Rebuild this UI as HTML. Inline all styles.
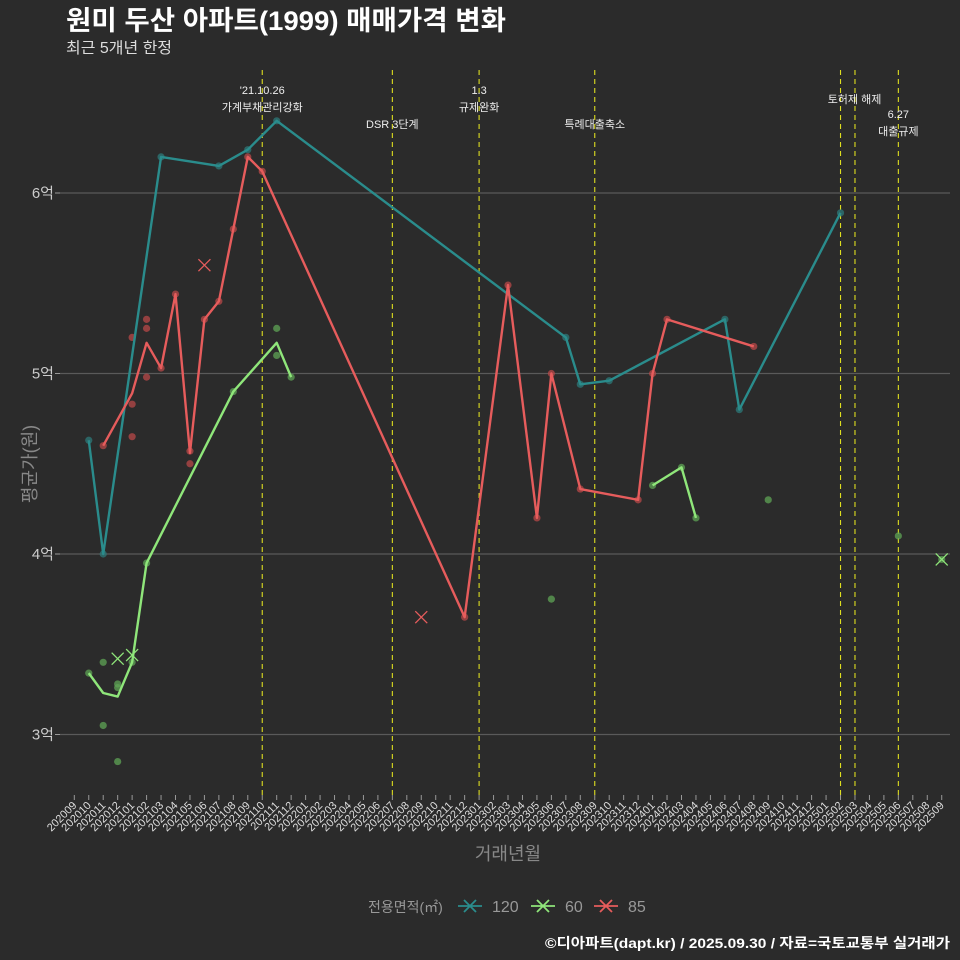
<!DOCTYPE html>
<html><head><meta charset="utf-8"><style>
body{margin:0;background:#2b2b2b;}
svg{display:block;font-family:"Liberation Sans","Noto Sans CJK KR",sans-serif;}
</style></head><body>
<svg id="c" width="960" height="960">
<rect width="960" height="960" fill="#2b2b2b"/>
<text x="66" y="30" fill="#fff" font-size="27" font-weight="bold" textLength="440" lengthAdjust="spacingAndGlyphs">원미 두산 아파트(1999) 매매가격 변화</text>
<text x="66" y="53" fill="#ddd" font-size="15.5" textLength="106" lengthAdjust="spacingAndGlyphs">최근 5개년 한정</text>
<text x="36" y="464" fill="#888" font-size="18" transform="rotate(-90 36 464)" text-anchor="middle">평균가(원)</text>
<text x="508" y="860" fill="#888" font-size="18" text-anchor="middle">거래년월</text>
<g>
<text x="368" y="912" fill="#999" font-size="14">전용면적(㎡)</text>
</g>
<text x="950" y="948" fill="#fff" font-size="14" font-weight="bold" text-anchor="end" textLength="405" lengthAdjust="spacingAndGlyphs">©디아파트(dapt.kr) / 2025.09.30 / 자료=국토교통부 실거래가</text>
</svg>
<script>
const months=[];for(let y=2020,m=9;!(y===2025&&m===10);){months.push(y+String(m).padStart(2,'0'));m++;if(m>12){m=1;y++;}}
const yTicks=[3,4,5,6];
const yLabels=['3억','4억','5억','6억'];
const events=['202110','202207','202301','202309','202502','202503','202506'];
// series 120
const t120Months=['202010','202011','202103','202107','202109','202111','202307','202308','202310','202406','202407','202502'];
const t120Vals=[4.63,4.0,6.2,6.15,6.24,6.40,5.2,4.94,4.96,5.30,4.80,5.89];
const d120Months=t120Months;const d120Vals=t120Vals;
// series 85
const l85Months=['202011','202101','202102','202103','202104','202105','202106','202107','202108','202109','202110','202212','202303','202305','202306','202308','202312','202401','202402','202408'];
const l85Vals=[4.60,4.89,5.17,5.03,5.44,4.56,5.30,5.40,5.80,6.20,6.12,3.65,5.49,4.20,5.00,4.36,4.30,5.00,5.30,5.15];
const d85Months=['202011','202101','202101','202101','202102','202102','202102','202103','202104','202105','202105','202106','202107','202108','202109','202110','202212','202303','202305','202306','202308','202312','202401','202402','202408'];
const d85Vals=[4.60,5.20,4.83,4.65,5.30,5.25,4.98,5.03,5.44,4.50,4.57,5.30,5.40,5.80,6.20,6.12,3.65,5.49,4.20,5.00,4.36,4.30,5.00,5.30,5.15];
const x85Months=['202106','202209'];const x85Vals=[5.60,3.65];
// series 60
const l60aMonths=['202010','202011','202012','202101','202102','202108','202111','202112'];
const l60aVals=[3.34,3.23,3.21,3.40,3.95,4.90,5.17,4.98];
const l60bMonths=['202401','202403','202404'];
const l60bVals=[4.38,4.48,4.20];
const d60Months=['202010','202011','202011','202012','202012','202012','202101','202102','202108','202111','202111','202112','202306','202401','202403','202404','202409','202506','202509'];
const d60Vals=[3.34,3.40,3.05,3.28,3.26,2.85,3.40,3.95,4.90,5.25,5.10,4.98,3.75,4.38,4.48,4.20,4.30,4.10,3.97];
const x60Months=['202012','202101','202509'];const x60Vals=[3.42,3.44,3.97];

const NS='http://www.w3.org/2000/svg',svg=document.getElementById('c');
const X=m=>74.3+14.457*months.indexOf(m);
const Y=v=>193+(6-v)*180.5;
function el(t,a,p){const e=document.createElementNS(NS,t);for(const k in a)e.setAttribute(k,a[k]);(p||svg).appendChild(e);return e;}
const grid=el('g',{});


yTicks.forEach((v,i)=>{
 const l=el('line',{x1:60,x2:950,y1:Y(v),y2:Y(v),stroke:'#5a5a5a','stroke-width':1.2},grid);
 
 
 el('line',{x1:55,x2:60,y1:Y(v),y2:Y(v),stroke:'#999'},grid);
 const t=el('text',{x:54,y:Y(v)+5,fill:'#ccc','font-size':15,'text-anchor':'end'},grid);t.textContent=yLabels[i];
 
 
});
months.forEach(m=>{
 const x=X(m);
 el('line',{x1:x,x2:x,y1:795,y2:800,stroke:'#999'},grid);
 const t=el('text',{x:x+3,y:806,fill:'#ddd','font-size':11,'text-anchor':'end',transform:`rotate(-45 ${x+3} 806)`},grid);
 t.textContent=m;
 
 
});
events.forEach(m=>{
 const l=el('line',{x1:X(m),x2:X(m),y1:70,y2:795,stroke:'#dede20','stroke-width':1.1,'stroke-dasharray':'5,4'});
 
 
});
const notes=[['202110',90,"'21.10.26"],['202110',107,'가계부채관리강화'],['202207',124,'DSR 3단계'],['202301',90,'1.3'],['202301',107,'규제완화'],['202309',124,'특례대출축소'],['202502',99,'토허제 해제',14],['202506',114,'6.27'],['202506',131,'대출규제']];
notes.forEach(n=>{const t=el('text',{x:X(n[0])+(n[3]||0),y:n[1]+4,fill:'#eee','font-size':11,'text-anchor':'middle'});t.textContent=n[2];
 
 });
function line(ms,vs,c,name){const p=el('polyline',{points:ms.map((m,i)=>X(m)+','+Y(vs[i])).join(' '),fill:'none',stroke:c,'stroke-width':2.4,'stroke-linejoin':'round'});
 
 }
function dots(ms,vs,c,name){ms.forEach((m,i)=>{const d=el('circle',{cx:X(m),cy:Y(vs[i]),r:3.6,fill:c,'fill-opacity':0.75});
 
 });}
function crosses(ms,vs,c,name){ms.forEach((m,i)=>{const x=X(m),y=Y(vs[i]);const p=el('path',{d:`M${x-6} ${y-6}L${x+6} ${y+6}M${x-6} ${y+6}L${x+6} ${y-6}`,stroke:c,'stroke-width':1.3});
 
 });}
const C120='#2a8c8c',C60='#8fe67a',C85='#e65c5c';
dots(d120Months,d120Vals,'#2d7a7a','dot-120');
dots(d85Months,d85Vals,'#b84848','dot-85');
dots(d60Months,d60Vals,'#5fa455','dot-60');
line(t120Months,t120Vals,C120,'line-120');
line(l85Months,l85Vals,C85,'line-85');
line(l60aMonths,l60aVals,C60,'line-60-a');
line(l60bMonths,l60bVals,C60,'line-60-b');
crosses(x85Months,x85Vals,C85,'cancel-mark-85');
crosses(x60Months,x60Vals,C60,'cancel-mark-60');
const lg=[['120',C120,460],['60',C60,533],['85',C85,596]];
lg.forEach(e=>{const x=e[2],y=906;
 const g=el('path',{d:`M${x-2} ${y}L${x+22} ${y}M${x+4} ${y-6}L${x+16} ${y+6}M${x+4} ${y+6}L${x+16} ${y-6}`,stroke:e[1],'stroke-width':1.8});
 
 
 const t=el('text',{x:x+32,y:y+6,fill:'#999','font-size':16});t.textContent=e[0];
 
 });
</script>
</body></html>
